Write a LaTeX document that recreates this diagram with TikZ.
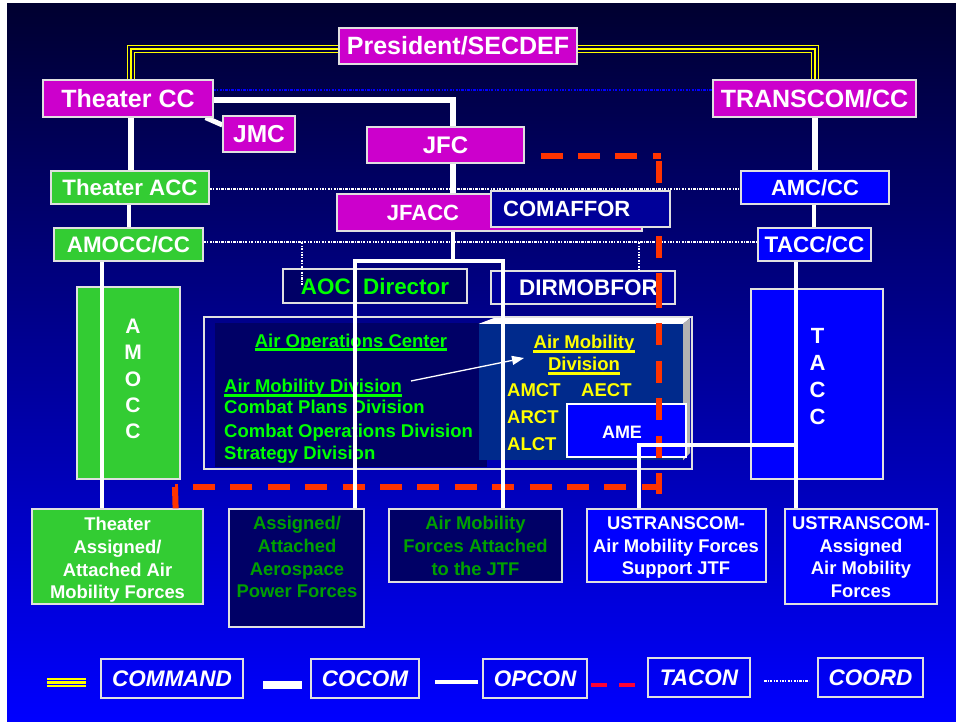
\documentclass[tikz,border=0pt]{standalone}
\usepackage{fontspec}
\setmainfont{Liberation Sans}
\usetikzlibrary{arrows.meta,calc}
\definecolor{mag}{HTML}{CC00CC}
\definecolor{grn}{HTML}{33CC33}
\definecolor{bbox}{HTML}{0000FF}
\definecolor{dnavy}{HTML}{000066}
\definecolor{mnavy}{HTML}{000099}
\definecolor{amdc}{HTML}{002A8C}
\definecolor{brgreen}{HTML}{00FF00}
\definecolor{dkgreen}{HTML}{00A000}
\definecolor{tacred}{HTML}{FF3300}
\definecolor{legred}{HTML}{FF0033}
\definecolor{bord}{HTML}{E0E0E0}
\definecolor{cmdyel}{HTML}{FFFF00}
\definecolor{bgtop}{HTML}{000030}
\definecolor{bgmid}{HTML}{0000C0}
\definecolor{bgbot}{HTML}{0000FF}
\definecolor{cmdgap}{HTML}{000040}
\newcommand\fsz[1]{\fontsize{#1}{#1}\selectfont\bfseries}
\newcommand\fszb[2]{\fontsize{#1}{#2}\selectfont\bfseries}
\pgfdeclarelayer{bg}
\pgfdeclarelayer{lines}
\pgfdeclarelayer{over}
\pgfdeclarelayer{top}
\pgfsetlayers{bg,lines,main,over,top}
\begin{document}
\begin{tikzpicture}[x=1pt,y=-1pt,
  box/.style={draw=bord, line width=1.2pt, inner sep=0pt, text=white},
  txt/.style={inner sep=0pt},
  cocom/.style={white, line width=6.5pt},
  opcon/.style={white, line width=3.5pt},
  coord/.style={white, line width=1.5pt, dash pattern=on 2.5pt off 1.2pt on 1pt off 1.2pt},
  bcoord/.style={bbox, line width=2pt, dash pattern=on 2.5pt off 1.2pt on 1pt off 1.2pt},
  tacon/.style={tacred, line width=6pt, dash pattern=on 22pt off 15.4pt},
  cmd/.style={cmdyel, line width=8.5pt, postaction={draw=#1, line width=5.5pt}, postaction={draw=cmdyel, line width=2.5pt}},
]
\useasboundingbox (0,0) rectangle (956,722);
\begin{pgfonlayer}{bg}
\fill[white] (0,0) rectangle (956,722);
\shade[top color=bgtop, middle color=bgmid, bottom color=bgbot] (7,4) rectangle (956,722);
\end{pgfonlayer}

% ---------- top boxes ----------
\node[box, fill=mag, minimum width=238, minimum height=36, font=\fsz{25}] (pres) at (458,46) {President/SECDEF};
\node[box, fill=mag, minimum width=170, minimum height=37, font=\fsz{25}] (thcc) at (128,98.5) {Theater CC};
\node[box, fill=mag, minimum width=72, minimum height=36, font=\fsz{24.5}] (jmc) at (259,134) {JMC};
\node[box, fill=mag, minimum width=157, minimum height=36, font=\fsz{24}] (jfc) at (445.5,145) {JFC};
\node[box, fill=mag, minimum width=203, minimum height=37, font=\fsz{25}] (transcom) at (814.5,98.5) {TRANSCOM/CC};
\node[box, fill=grn, minimum width=158, minimum height=33, font=\fsz{22.3}] (thacc) at (130,187.5) {Theater ACC};
\node[box, fill=grn, minimum width=149, minimum height=33, font=\fsz{22.4}] (amocccc) at (128.5,244.5) {AMOCC/CC};
\node[box, fill=bbox, minimum width=148, minimum height=33, font=\fsz{22}] (amccc) at (815,187.5) {AMC/CC};
\node[box, fill=bbox, minimum width=113, minimum height=33, font=\fsz{22.5}] (tacccc) at (814.5,244.5) {TACC/CC};
\node[box, fill=mag, minimum width=305, minimum height=37] (jfacc) at (489.5,212.5) {};
\node[txt, font=\fsz{22}, text=white] (jfacctxt) at (423,212.5) {JFACC};
\node[box, fill=dnavy, minimum width=184, minimum height=34, font=\fsz{22.4}, text=brgreen] (aocdir) at (375,286) {AOC~~Director};
\node[box, fill=mnavy, minimum width=184, minimum height=33] (dirmob) at (583,287.5) {};
\node[txt, font=\fsz{22.5}, text=white] (dirmobtxt) at (588.5,287.5) {DIRMOBFOR};

% ---------- side columns ----------
\node[box, fill=grn, minimum width=103, minimum height=192] (amoccbox) at (128.5,383) {};
\node[txt, font=\fszb{21}{26.4}, text=white, align=center] (amocclbl) at (133,379) {A\\M\\O\\C\\C};
\node[box, fill=bbox, minimum width=132, minimum height=190] (taccbox) at (817,384) {};
\node[txt, font=\fszb{22}{27}, text=white, align=center] (tacclbl) at (817.5,376.5) {T\\A\\C\\C};

% ---------- AOC block ----------
\node[draw=bord, line width=1.2pt, minimum width=488, minimum height=152, inner sep=0pt] (aocouter) at (448,393) {};
\node[fill=dnavy, minimum width=272, minimum height=144, inner sep=0pt] (leftpanel) at (351,395) {};
\node[fill=amdc, minimum width=204, minimum height=136, inner sep=0pt] (amdpanel) at (581,392) {};
\fill[white] (amdpanel.north west) -- (494,318) -- (690,318) -- (amdpanel.north east) -- cycle;
\fill[black!30] (amdpanel.north east) -- (690,318) -- (690,453) -- (amdpanel.south east) -- cycle;
\node[draw=white, line width=2pt, fill=bbox, minimum width=119, minimum height=53, inner sep=0pt] (ame) at (626.5,430.5) {};
\node[txt, font=\fsz{18}, text=white] (ametxt) at (622,432.7) {AME};

\node[txt, font=\fsz{18.5}, text=brgreen, anchor=base] (aoctitle) at (351,347.6) {Air Operations Center};
\draw[brgreen, line width=2.5pt] ($(aoctitle.base west)+(0,2)$) -- ($(aoctitle.base east)+(0,2)$);
\node[txt, font=\fsz{18.5}, text=brgreen, anchor=base west] (amdl) at (224,392.6) {Air Mobility Division};
\draw[brgreen, line width=3pt] ($(amdl.base west)+(0,2.6)$) -- ($(amdl.base east)+(0,2.6)$);
\node[txt, font=\fsz{18.5}, text=brgreen, anchor=base west] (cpd) at (224,413.6) {Combat Plans Division};
\node[txt, font=\fsz{18.5}, text=brgreen, anchor=base west] (cod) at (224,437.3) {Combat Operations Division};
\node[txt, font=\fsz{18.5}, text=brgreen, anchor=base west] (sdv) at (224,459.3) {Strategy Division};

\node[txt, font=\fsz{18.5}, text=cmdyel, anchor=base] (am1) at (584,348.3) {Air Mobility};
\draw[cmdyel, line width=3pt] ($(am1.base west)+(0,3.4)$) -- ($(am1.base east)+(0,3.4)$);
\node[txt, font=\fsz{18.5}, text=cmdyel, anchor=base] (am2) at (584,370) {Division};
\draw[cmdyel, line width=3pt] ($(am2.base west)+(0,3.2)$) -- ($(am2.base east)+(0,3.2)$);
\node[txt, font=\fsz{18.5}, text=cmdyel, anchor=base west] (amct) at (507,396.6) {AMCT};
\node[txt, font=\fsz{18.5}, text=cmdyel, anchor=base west] (aect) at (581,396.6) {AECT};
\node[txt, font=\fsz{18.5}, text=cmdyel, anchor=base west] (arct) at (507,423.3) {ARCT};
\node[txt, font=\fsz{18.5}, text=cmdyel, anchor=base west] (alct) at (507,450.6) {ALCT};

% ---------- bottom boxes ----------
\node[box, fill=grn, minimum width=171, minimum height=95] (thassigned) at (117.5,556.5) {};
\node[txt, font=\fszb{18.4}{22.6}, text=white, align=center, anchor=north] at (117.5,517.4) {Theater\\Assigned/\\Attached Air\\Mobility Forces};
\node[box, fill=dnavy, minimum width=135, minimum height=118] (assigned) at (296.5,568) {};
\node[txt, font=\fszb{18.4}{22.6}, text=dkgreen, align=center, anchor=north] at (297,516.4) {Assigned/\\Attached\\Aerospace\\Power Forces};
\node[box, fill=dnavy, minimum width=173, minimum height=73] (amfjtf) at (475.5,545.5) {};
\node[txt, font=\fszb{18.4}{22.6}, text=dkgreen, align=center, anchor=north] at (475.5,516.4) {Air Mobility\\Forces Attached\\to the JTF};
\node[box, fill=bbox, minimum width=179, minimum height=73] (ussupport) at (676.5,545.5) {};
\node[txt, font=\fszb{18.4}{22.6}, text=white, align=center, anchor=north] at (676,516.4) {USTRANSCOM-\\Air Mobility Forces\\Support JTF};
\node[box, fill=bbox, minimum width=152, minimum height=95] (usassigned) at (861,556.5) {};
\node[txt, font=\fszb{18.4}{22.6}, text=white, align=center, anchor=north] at (861,516.4) {USTRANSCOM-\\Assigned\\Air Mobility\\Forces};

% ---------- legend ----------
\node[box, minimum width=142, minimum height=39, font=\fsz{22.5}\itshape] (lcommand) at (172,678.5) {COMMAND};
\node[box, minimum width=108, minimum height=39, font=\fsz{22.5}\itshape] (lcocom) at (365,678.5) {COCOM};
\node[box, minimum width=104, minimum height=39, font=\fsz{22.5}\itshape] (lopcon) at (535,678.5) {OPCON};
\node[box, minimum width=102, minimum height=39, font=\fsz{22.5}\itshape] (ltacon) at (699,677.5) {TACON};
\node[box, minimum width=105, minimum height=39, font=\fsz{22.5}\itshape] (lcoord) at (870.5,677.5) {COORD};
\coordinate (s1a) at (47,682.5); \coordinate (s1b) at (86,682.5);
\coordinate (s2a) at (263,685); \coordinate (s2b) at (302,685);
\coordinate (s3a) at (435,682); \coordinate (s3b) at (478,682);
\coordinate (s4a) at (591,685); \coordinate (s4b) at (635,685);
\coordinate (s5a) at (764,681); \coordinate (s5b) at (809,681);
\draw[cmdyel, line width=9pt, postaction={draw=bbox, line width=5.5pt}, postaction={draw=cmdyel, line width=3pt}] (s1a) -- (s1b);
\draw[white, line width=8pt] (s2a) -- (s2b);
\draw[white, line width=4pt] (s3a) -- (s3b);
\draw[legred, line width=4pt, dash pattern=on 16pt off 12pt] (s4a) -- (s4b);
\draw[coord] (s5a) -- (s5b);

% ---------- connectors under boxes ----------
\begin{pgfonlayer}{lines}
\draw[cmd=cmdgap] ($(pres.west)+(0,3)$) -| ($(thcc.north)+(3,0)$);
\draw[cmd=cmdgap] ($(pres.east)+(0,3)$) -| ($(transcom.north)+(0.5,0)$);
\draw[bcoord] ($(thcc.east)+(0,-8.5)$) -- ($(transcom.west)+(0,-8.5)$);
\draw[coord] ($(thacc.east)+(0,1.5)$) -- ($(amccc.west)+(0,1.5)$);
\draw[coord] ($(amocccc.east)+(0,-2.5)$) -- ($(tacccc.west)+(0,-2.5)$);
\draw[cocom] ($(thcc.east)+(0,1.5)$) -| ($(jfc.north)+(7.5,0)$);
\draw[white, line width=5pt] ($(thcc.south east)+(-8,0)$) -- ($(jmc.west)+(0,-9)$);
\draw[cocom] ($(thcc.south)+(3,0)$) -- ($(thacc.north)+(1,0)$);
\draw[opcon] ($(thacc.south)+(-1,0)$) -- ($(amocccc.north)+(0.5,0)$);
\draw[cocom] ($(jfc.south)+(7.5,0)$) -- ($(jfacc.north)+(-36.5,0)$);
\draw[cocom] ($(transcom.south)+(0.5,0)$) -- (amccc.north);
\draw[opcon] ($(amccc.south)+(-1,0)$) -- ($(tacccc.north)+(-0.5,0)$);
\coordinate (pim) at (453,261);
\draw[opcon] ($(jfacc.south)+(-36.5,0)$) -- (pim);
\end{pgfonlayer}

% ---------- TACON ----------
\begin{pgfonlayer}{over}
\coordinate (tc1) at (661,156);
\coordinate (tc2) at (659,161); \coordinate (tc3) at (659,294);
\coordinate (tc4) at (659,286); \coordinate (tc5) at (659,494);
\coordinate (tc6) at (175,487); \coordinate (tc7) at (661,487);
\draw[tacon] ($(jfc.east)+(16,11)$) -- (tc1);
\draw[tacon] (tc2) -- (tc3);
\draw[tacon] (tc4) -- (tc5);
\draw[tacon, dash phase=19.4pt] (tc6) -- (tc7);
\draw[tacred, line width=6pt] (tc6) -- ($(thassigned.north east)+(-28,0)$);
\end{pgfonlayer}

% ---------- lines over boxes ----------
\begin{pgfonlayer}{top}
\node[box, fill=mnavy, minimum width=179, minimum height=36] (comaffor) at (580.5,209) {};
\node[txt, font=\fsz{22}, text=white, anchor=west] (comaffortxt) at (503,209) {COMAFFOR};
\draw[opcon] ($(amocccc.south)+(-26.5,0)$) -- ($(thassigned.north)+(-15.5,0)$);
\draw[opcon] ($(tacccc.south)+(-18.5,0)$) -- ($(usassigned.north)+(-65,0)$);
\coordinate (tbr) at (796,445);
\draw[opcon] (tbr) -| ($(ussupport.north)+(-37.5,0)$);
\coordinate (piL) at (355,261); \coordinate (piR) at (503,261);
\draw[opcon] ($(assigned.north)+(58.5,0)$) -- (piL) -- (piR) -- ($(amfjtf.north)+(27.5,0)$);
\coordinate (cv1) at (302,242); \coordinate (cv2) at (302,285);
\draw[coord] (cv1) -- (cv2);
\coordinate (cv3) at (639,242);
\draw[coord] (cv3) -- (cv3 |- dirmob.north);
\coordinate (ar1) at (411,381); \coordinate (ar2) at (524,358);
\draw[white, line width=1.3pt, -{Triangle[length=12pt,width=9pt]}] (ar1) -- (ar2);
\end{pgfonlayer}
\end{tikzpicture}
\end{document}
